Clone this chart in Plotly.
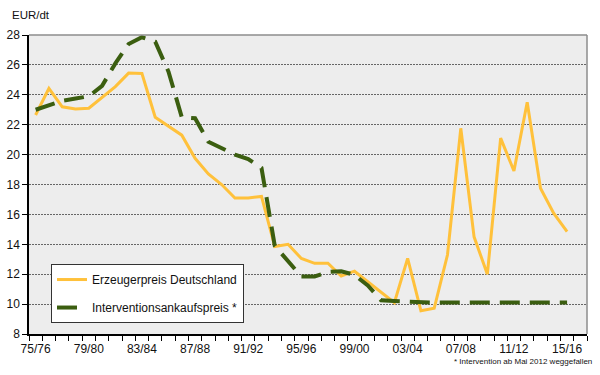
import plotly.graph_objects as go

years = [f"{y % 100:02d}/{(y + 1) % 100:02d}" for y in range(1975, 2017)]
label_years = ["75/76", "79/80", "83/84", "87/88", "91/92", "95/96",
               "99/00", "03/04", "07/08", "11/12", "15/16"]

erzeugerpreis = [22.65, 24.43, 23.2, 23.05, 23.1, 23.8, 24.55, 25.45, 25.42, 22.5,
                 21.9, 21.3, 19.75, 18.7, 18.0, 17.1, 17.1, 17.2, 13.85, 14.0,
                 13.05, 12.73, 12.73, 11.88, 12.2, 11.5, 10.8, 10.1, 13.06, 9.55,
                 9.72, 13.3, 21.76, 14.5, 12.0, 21.1, 18.9, 23.5, 17.75, 16.07,
                 14.84, None]

intervention = [23.0, 23.3, 23.6, 23.75, 23.9, 24.6, 26.1, 27.4, 27.85, 27.55,
                25.55, 22.5, 22.43, 20.86, 20.45, 20.0, 19.7, 19.1, 13.9, 12.85,
                11.85, 11.85, 12.15, 12.2, 11.95, 11.25, 10.25, 10.2, 10.15, 10.1,
                10.1, 10.1, 10.1, 10.1, 10.1, 10.1, 10.1, 10.1, 10.1, 10.1,
                10.1, None]

FONT = "Liberation Sans, Arial, sans-serif"

fig = go.Figure()
fig.add_trace(go.Scatter(
    x=years, y=erzeugerpreis, mode="lines", name="Erzeugerpreis Deutschland",
    line=dict(color="#FFC13B", width=3), legendgroup="a"))
fig.add_trace(go.Scatter(
    x=years, y=intervention, mode="lines", name="Interventionsankaufspreis *",
    line=dict(color="#3B5E10", width=4, dash="20px,10px"), legendgroup="b"))

ticktext = [y if y in label_years else "" for y in years]

fig.update_layout(
    width=600, height=375,
    margin=dict(l=29, r=13, t=35, b=41),
    paper_bgcolor="white", plot_bgcolor="#EDEDED",
    font=dict(family=FONT, size=12, color="#111"),
    showlegend=True,
    legend=dict(x=0.0394, y=0.234, xanchor="left", yanchor="top",
                bgcolor="white", bordercolor="#333", borderwidth=1,
                font=dict(family=FONT, size=12, color="#111"),
                tracegroupgap=9),
    xaxis=dict(type="category", range=[-0.5, 41.5],
               tickmode="array", tickvals=years, ticktext=ticktext,
               tickangle=0, automargin=False, ticklabelstandoff=3,
               tickson="boundaries", ticks="outside", ticklen=5,
               tickcolor="#000", showline=True, linecolor="#000",
               linewidth=1.5, showgrid=False, zeroline=False,
               tickfont=dict(size=12)),
    yaxis=dict(range=[8, 28], dtick=2, tick0=8, ticks="outside", ticklen=5,
               automargin=False,
               tickcolor="#000", showline=True, linecolor="#000",
               linewidth=1.5, gridcolor="#666", griddash="2px,1px",
               gridwidth=1, zeroline=False, tickfont=dict(size=12)),
    shapes=[
        dict(type="line", xref="paper", yref="paper", x0=0, x1=1, y0=1, y1=1,
             line=dict(color="#8c8c8c", width=1.5)),
        dict(type="line", xref="paper", yref="paper", x0=1, x1=1, y0=0, y1=1,
             line=dict(color="#8c8c8c", width=1.5)),
    ],
    annotations=[
        dict(text="EUR/dt", xref="paper", yref="paper", x=-0.034, y=1.067,
             xanchor="left", yanchor="middle", showarrow=False,
             font=dict(family=FONT, size=11.5, color="#111")),
        dict(text="* Intervention ab Mai 2012 weggefallen", xref="paper",
             yref="paper", x=1.0125, y=-0.0936, xanchor="right",
             yanchor="middle", showarrow=False,
             font=dict(family=FONT, size=8, color="#111")),
    ],
)

fig.write_html("out.html", config={"displayModeBar": False},
               post_script="document.body.style.margin='0';document.body.style.padding='0';")
